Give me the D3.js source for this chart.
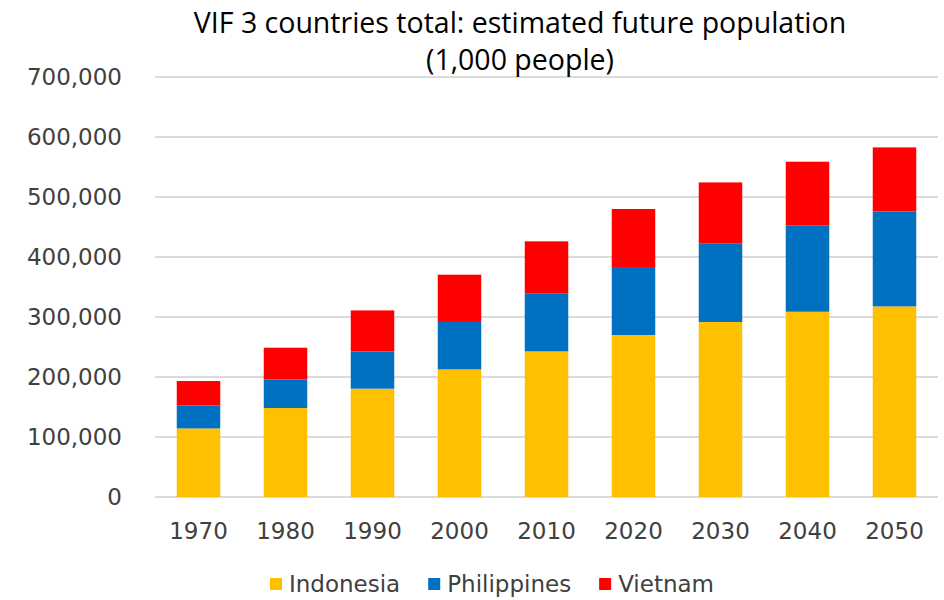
<!DOCTYPE html>
<html>
<head>
<meta charset="utf-8">
<script src="https://cdn.jsdelivr.net/npm/d3@7"></script>
<style>
  body { margin: 0; background: #fff; }
  svg { display: block; }
</style>
</head>
<body>
<div id="chart"></div>
<script>
var years = ["1970", "1980", "1990", "2000", "2010", "2020", "2030", "2040", "2050"];
var indonesia = [114300, 148300, 180500, 212700, 242700, 270000, 291700, 308800, 317700];
var philippines = [38400, 47700, 62200, 79000, 96200, 113300, 130500, 143400, 158300];
var vietnam = [40600, 52800, 68300, 78800, 87200, 96700, 102100, 106600, 106700];
var seriesNames = ["Indonesia", "Philippines", "Vietnam"];
var seriesColors = ["#FFC000", "#0070C0", "#FF0000"];
var yTicks = [0, 100000, 200000, 300000, 400000, 500000, 600000, 700000];

var width = 944, height = 600;
var margin = {top: 77, right: 6, bottom: 103, left: 155};

var svg = d3.select("#chart").append("svg")
    .attr("width", width)
    .attr("height", height);

var rows = years.map(function(y, i) {
  return {year: y, Indonesia: indonesia[i], Philippines: philippines[i], Vietnam: vietnam[i]};
});
var stacked = d3.stack().keys(seriesNames)(rows);

var x = d3.scaleBand()
    .domain(years)
    .range([margin.left, width - margin.right])
    .paddingInner(0.5)
    .paddingOuter(0.25);

var y = d3.scaleLinear()
    .domain([0, 700000])
    .range([height - margin.bottom, margin.top]);

var color = d3.scaleOrdinal().domain(seriesNames).range(seriesColors);

// gridlines
svg.append("g")
  .selectAll("line")
  .data(yTicks)
  .enter().append("line")
    .attr("x1", margin.left)
    .attr("x2", width - margin.right)
    .attr("y1", function(d) { return y(d); })
    .attr("y2", function(d) { return y(d); })
    .attr("stroke", "#cfcfcf")
    .attr("stroke-width", 1.5);

// y axis labels
var yAxis = d3.axisLeft(y)
    .tickValues(yTicks)
    .tickFormat(d3.format(","))
    .tickSize(0)
    .tickPadding(33);
svg.append("g")
    .attr("transform", "translate(" + margin.left + ",0)")
    .call(yAxis)
    .call(function(g) { g.select(".domain").remove(); })
    .selectAll("text")
    .attr("font-family", "DejaVu Sans, sans-serif")
    .attr("font-size", 23)
    .attr("fill", "#404040");

// bars
svg.append("g")
  .selectAll("g")
  .data(stacked)
  .enter().append("g")
    .attr("fill", function(d) { return color(d.key); })
  .selectAll("rect")
  .data(function(d) { return d; })
  .enter().append("rect")
    .attr("x", function(d) { return x(d.data.year); })
    .attr("width", x.bandwidth())
    .attr("y", function(d) { return y(d[1]); })
    .attr("height", function(d) { return y(d[0]) - y(d[1]); });

// x axis labels
var xAxis = d3.axisBottom(x).tickSize(0).tickPadding(26);
svg.append("g")
    .attr("transform", "translate(0," + (height - margin.bottom) + ")")
    .call(xAxis)
    .call(function(g) { g.select(".domain").remove(); })
    .selectAll("text")
    .attr("font-family", "DejaVu Sans, sans-serif")
    .attr("font-size", 23)
    .attr("fill", "#404040");

// title
var title = svg.append("text")
    .attr("text-anchor", "middle")
    .attr("font-family", "Liberation Sans Narrow, Open Sans, sans-serif")
    .attr("font-size", 28.5)
    .attr("fill", "#000");
title.append("tspan").attr("x", 520).attr("y", 33).text("VIF 3 countries total: estimated future population");
title.append("tspan").attr("x", 520).attr("y", 70).text("(1,000 people)");

// legend
var legend = svg.append("g").attr("transform", "translate(0,584)");
var items = legend.selectAll("g")
  .data(seriesNames)
  .enter().append("g");
items.append("rect")
    .attr("width", 12)
    .attr("height", 12)
    .attr("y", -6)
    .attr("fill", function(d) { return color(d); });
items.append("text")
    .attr("x", 19)
    .attr("dy", "0.35em")
    .attr("font-family", "DejaVu Sans, sans-serif")
    .attr("font-size", 23)
    .attr("fill", "#404040")
    .text(function(d) { return d; });
var pos = 0, gap = 28, offsets = [];
items.each(function() {
  offsets.push(pos);
  pos += this.getBBox().width + gap;
});
var start = 492 - (pos - gap) / 2;
items.attr("transform", function(d, i) { return "translate(" + (start + offsets[i]) + ",0)"; });
</script>
</body>
</html>
